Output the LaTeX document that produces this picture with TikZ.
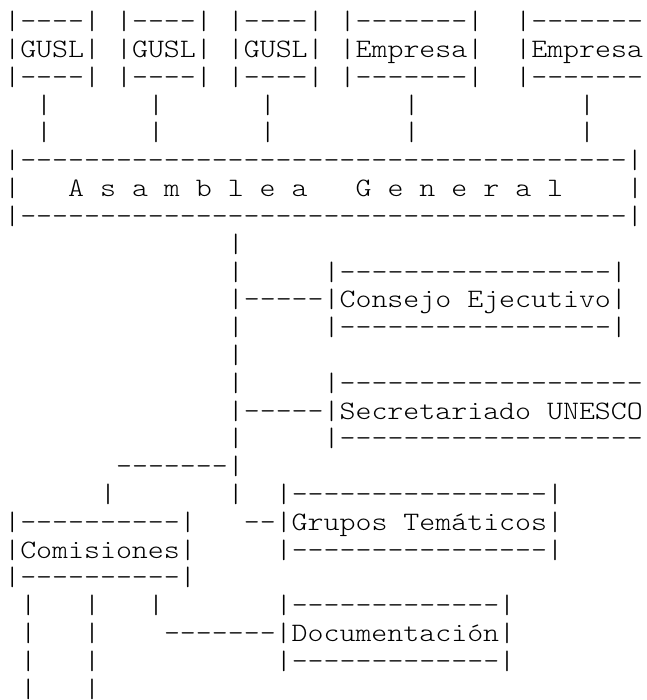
\documentclass[tikz,border=0pt]{standalone}
\usepackage{fontspec}
\setmonofont{lmmonolt10-regular.otf}[FakeStretch=1.1429]
\tikzset{
  txt/.style={anchor=base west, inner sep=0pt, outer sep=0pt, font=\ttfamily\fontsize{26.6}{27.8}\selectfont, text=black}
}
\newcommand\seg[4]{\node[txt] (#1) at ({4.3+#2*15.97},{29.8+(#3-1)*27.8}) {#4};}
\begin{document}
\begin{tikzpicture}[x=1pt,y=-1pt]
\useasboundingbox[fill=white] (0,0) rectangle (646,700);
% top boxes
\seg{a1}{0}{1}{|----|}\seg{b1}{7}{1}{|----|}\seg{c1}{14}{1}{|----|}\seg{d1}{21}{1}{|-------|}\seg{e1}{32}{1}{|-------}
\seg{a2}{0}{2}{|GUSL|}\seg{b2}{7}{2}{|GUSL|}\seg{c2}{14}{2}{|GUSL|}\seg{d2}{21}{2}{|Empresa|}\seg{e2}{32}{2}{|Empresa}
\seg{a3}{0}{3}{|----|}\seg{b3}{7}{3}{|----|}\seg{c3}{14}{3}{|----|}\seg{d3}{21}{3}{|-------|}\seg{e3}{32}{3}{|-------}
\seg{a4}{2}{4}{|}\seg{b4}{9}{4}{|}\seg{c4}{16}{4}{|}\seg{d4}{25}{4}{|}\seg{e4}{36}{4}{|}
\seg{a5}{2}{5}{|}\seg{b5}{9}{5}{|}\seg{c5}{16}{5}{|}\seg{d5}{25}{5}{|}\seg{e5}{36}{5}{|}
% Asamblea General
\seg{ag6}{0}{6}{|--------------------------------------|}
\seg{ag7l}{0}{7}{|}\seg{ag7a}{4}{7}{A s a m b l e a}\seg{ag7g}{22}{7}{G e n e r a l}\seg{ag7r}{39}{7}{|}
\seg{ag8}{0}{8}{|--------------------------------------|}
% main trunk
\seg{m9}{14}{9}{|}
\seg{m10}{14}{10}{|}\seg{ce10}{20}{10}{|-----------------|}
\seg{ce11}{14}{11}{|-----|Consejo Ejecutivo|}
\seg{m12}{14}{12}{|}\seg{ce12}{20}{12}{|-----------------|}
\seg{m13}{14}{13}{|}
\seg{m14}{14}{14}{|}\seg{su14}{20}{14}{|-------------------}
\seg{su15}{14}{15}{|-----|Secretariado UNESCO}
\seg{m16}{14}{16}{|}\seg{su16}{20}{16}{|-------------------}
\seg{m17}{7}{17}{-------|}
\seg{co18}{6}{18}{|}\seg{m18}{14}{18}{|}\seg{gt18}{17}{18}{|----------------|}
\seg{co19}{0}{19}{|----------|}\seg{gt19}{15}{19}{--|Grupos Temáticos|}
\seg{co20}{0}{20}{|Comisiones|}\seg{gt20}{17}{20}{|----------------|}
\seg{co21}{0}{21}{|----------|}
\seg{p22}{1}{22}{|}\seg{q22}{5}{22}{|}\seg{r22}{9}{22}{|}\seg{do22}{17}{22}{|-------------|}
\seg{p23}{1}{23}{|}\seg{q23}{5}{23}{|}\seg{do23}{10}{23}{-------|Documentación|}
\seg{p24}{1}{24}{|}\seg{q24}{5}{24}{|}\seg{do24}{17}{24}{|-------------|}
\seg{p25}{1}{25}{|}\seg{q25}{5}{25}{|}
\end{tikzpicture}
\end{document}
